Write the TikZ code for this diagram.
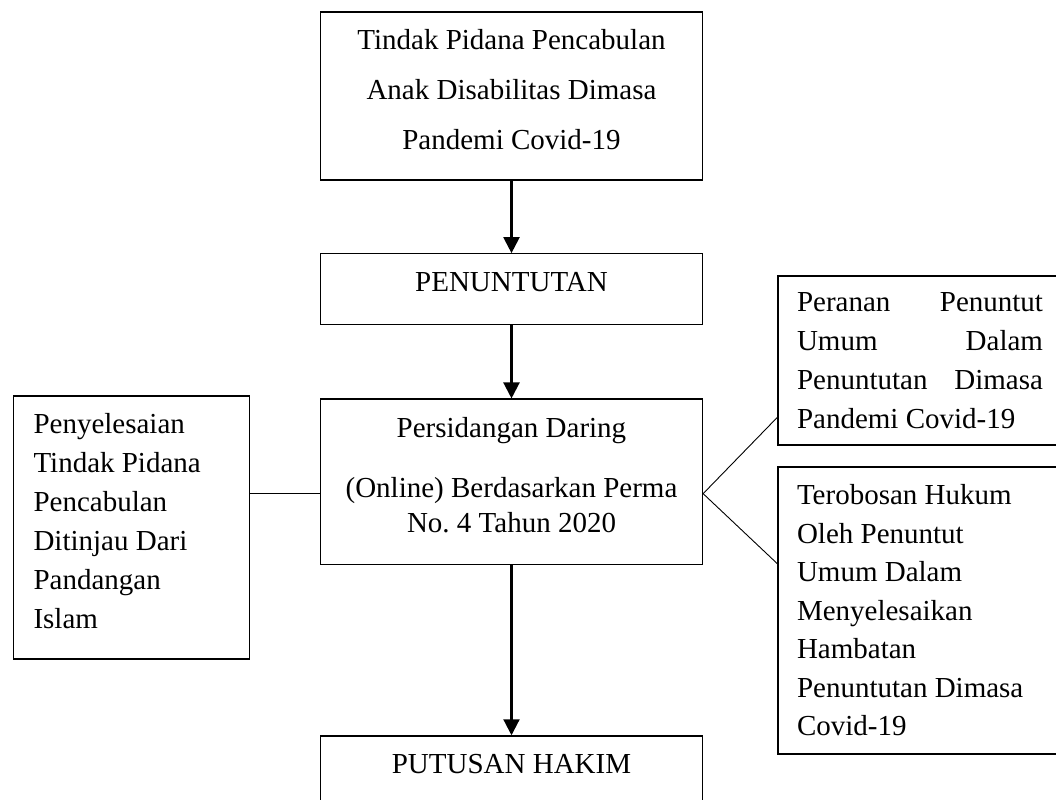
\documentclass[tikz,border=0pt]{standalone}
\usepackage{fontspec}
\setmainfont{Liberation Serif}
\usepackage{tikz}
\usetikzlibrary{arrows.meta,positioning,calc}
\frenchspacing

\begin{document}
\begin{tikzpicture}[
    x=0.5pt, y=-0.5pt,
    every node/.style={font=\fontsize{14.5}{19.5}\selectfont},
    box/.style={draw, line width=0.65pt, align=center, inner sep=0pt,
      minimum width=191pt, minimum height=35.25pt,
      execute at end node={\rule[-7pt]{0pt}{0pt}}},
    side/.style={draw, line width=0.65pt, align=flush left, inner xsep=9.5pt, inner ysep=0pt,
      text width=123pt, minimum width=142pt},
    arr/.style={-{Triangle[length=8pt,width=8pt]}, line width=1.1pt},
    lnk/.style={line width=0.45pt}
  ]
    \useasboundingbox (0,0) rectangle (1056,799);
    \clip (0,0) rectangle (1056,799);
    \fill[white] (0,0) rectangle (1056,799);

    % main column
    \node[box, minimum height=84pt, font=\fontsize{14.5}{25}\selectfont] (kasus) at (511.5,96)
      {Tindak Pidana Pencabulan\\Anak Disabilitas Dimasa\\Pandemi Covid-19};
    \node[box, below=36.25pt of kasus] (tuntut) {PENUNTUTAN};
    \node[box, below=36.75pt of tuntut, minimum height=82.75pt, font=\fontsize{14.5}{17.5}\selectfont] (sidang)
      {Persidangan Daring\\[12.5pt](Online) Berdasarkan Perma\\No. 4 Tahun 2020};
    \node[box, below=85pt of sidang] (putus) {PUTUSAN HAKIM};

    % side boxes
    \node[side, inner xsep=10pt, text width=98pt, minimum width=118pt, minimum height=131.5pt,
      execute at end node={\rule[-7pt]{0pt}{0pt}}] (islam) at (131.5,527.5)
      {Penyelesaian\\Tindak Pidana\\Pencabulan\\Ditinjau Dari\\Pandangan\\Islam};
    \node[side, minimum height=84.5pt] (peran) at (920,360.5)
      {Peranan\hfill Penuntut\\Umum\hfill Dalam\\Penuntutan\hfill Dimasa\\Pandemi Covid-19};
    \node[side, minimum height=143.5pt, font=\fontsize{14.5}{19.25}\selectfont] (terobosan) at (920,610.5)
      {Terobosan Hukum\\Oleh Penuntut\\Umum Dalam\\Menyelesaikan\\Hambatan\\Penuntutan Dimasa\\Covid-19};

    \draw[arr] (kasus) -- (tuntut);
    \draw[arr] (tuntut) -- (sidang);
    \draw[arr] (sidang) -- (putus);

    \coordinate (hub) at ([yshift=-5.9pt]sidang.east);
    \draw[lnk] (sidang.west |- hub) -- (islam.east |- hub);
    \draw[lnk] (hub) -- ([yshift=-28.4pt]peran.west);
    \draw[lnk] (hub) -- ([yshift=23.4pt]terobosan.west);
  \end{tikzpicture}
\end{document}
